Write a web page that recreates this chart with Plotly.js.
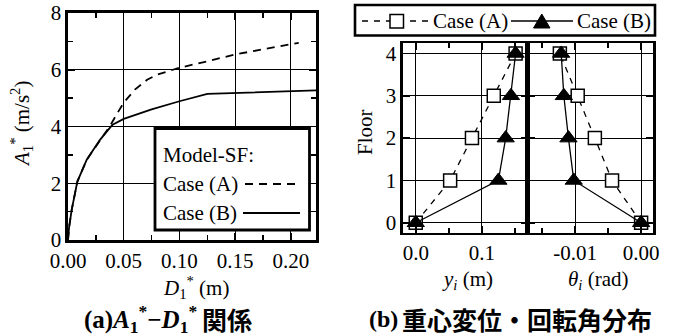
<!DOCTYPE html>
<html>
<head>
<meta charset="utf-8">
<script src="https://cdn.plot.ly/plotly-3.0.1.min.js"></script>
<style>html,body{margin:0;padding:0;background:#fff;}#chart{width:674px;height:336px;}</style>
</head>
<body>
<div id="chart"></div>
<script>
// ---------- data: panel (a) capacity curves ----------
const D1_caseA = [0, 0.001, 0.0033, 0.0084, 0.0168, 0.0287, 0.0377, 0.044, 0.05, 0.06, 0.071, 0.08, 0.09, 0.10, 0.125, 0.15, 0.175, 0.20, 0.207];
const A1_caseA = [0, 0.45, 1.06, 2.06, 2.83, 3.53, 4.02, 4.45, 4.84, 5.30, 5.65, 5.83, 5.96, 6.07, 6.30, 6.54, 6.72, 6.89, 6.95];
const D1_caseB = [0, 0.001, 0.0033, 0.0084, 0.0168, 0.0287, 0.0377, 0.04, 0.05, 0.075, 0.10, 0.125, 0.2225];
const A1_caseB = [0, 0.45, 1.06, 2.06, 2.83, 3.53, 3.96, 4.06, 4.27, 4.60, 4.89, 5.15, 5.27];

// ---------- data: panel (b) distributions ----------
const floors = [0, 1, 2, 3, 4];
const y_caseA = [0.0, 0.052, 0.085, 0.118, 0.151];
const y_caseB = [0.0, 0.125, 0.136, 0.144, 0.151];
const theta_caseA = [0.0, -0.0044, -0.0070, -0.0096, -0.0123];
const theta_caseB = [0.0, -0.0102, -0.0110, -0.0117, -0.0121];

// ---------- tick labels ----------
const ticksA_x = [0, 0.05, 0.10, 0.15, 0.20];
const ticksA_xText = ['0.00', '0.05', '0.10', '0.15', '0.20'];
const ticksA_y = [0, 2, 4, 6, 8];
const ticksY_x = [0, 0.1];
const ticksY_xText = ['0.0', '0.1'];
const ticksT_x = [-0.01, 0];
const ticksT_xText = ['-0.01', '0.00'];
const ticksFloor = [0, 1, 2, 3, 4];

const W = 674, H = 336;
const px = x => x / W;
const py = y => 1 - y / H;
const SERIF = 'Times New Roman';
const CJK = 'Noto Sans CJK JP';
const FS = 21;

const traces = [
  {x: D1_caseA, y: A1_caseA, xaxis: 'x', yaxis: 'y', mode: 'lines', name: 'Case (A)',
   line: {color: '#000', width: 1.8, dash: '8px,6px'}, showlegend: false},
  {x: D1_caseB, y: A1_caseB, xaxis: 'x', yaxis: 'y', mode: 'lines', name: 'Case (B)',
   line: {color: '#000', width: 1.8}, showlegend: false},
  {x: y_caseA, y: floors, xaxis: 'x2', yaxis: 'y2', mode: 'lines+markers', name: 'Case (A)',
   line: {color: '#000', width: 1.3, dash: '6px,6px'},
   marker: {symbol: 'square', size: 13, color: '#fff', line: {color: '#000', width: 1.5}}, showlegend: false},
  {x: y_caseB, y: floors, xaxis: 'x2', yaxis: 'y2', mode: 'lines+markers', name: 'Case (B)',
   line: {color: '#000', width: 1.3},
   marker: {symbol: 'triangle-up', size: 15, color: '#000', line: {color: '#000', width: 1}}, showlegend: false},
  {x: theta_caseA, y: floors, xaxis: 'x3', yaxis: 'y3', mode: 'lines+markers', name: 'Case (A)',
   line: {color: '#000', width: 1.3, dash: '6px,6px'},
   marker: {symbol: 'square', size: 13, color: '#fff', line: {color: '#000', width: 1.5}}, showlegend: false},
  {x: theta_caseB, y: floors, xaxis: 'x3', yaxis: 'y3', mode: 'lines+markers', name: 'Case (B)',
   line: {color: '#000', width: 1.3},
   marker: {symbol: 'triangle-up', size: 15, color: '#000', line: {color: '#000', width: 1}}, showlegend: false}
];

const axBase = {
  showline: true, linecolor: '#000', linewidth: 2.6, mirror: 'allticks',
  ticks: 'inside', ticklen: 7, tickwidth: 1.5, tickcolor: '#000',
  showgrid: true, gridcolor: '#000', gridwidth: 1, zeroline: false,
  tickfont: {family: SERIF, size: FS, color: '#000'}, fixedrange: true
};

const txt = (x, y, text, opts) => Object.assign({xref: 'paper', yref: 'paper', x: px(x), y: py(y), text: text,
  showarrow: false, font: {family: SERIF, size: FS, color: '#000'}, xanchor: 'center', yanchor: 'middle'}, opts || {});

const layout = {
  width: W, height: H, margin: {l: 0, r: 0, t: 0, b: 0},
  paper_bgcolor: '#fff', plot_bgcolor: '#fff', showlegend: false,
  xaxis: Object.assign({}, axBase, {domain: [px(68), px(316)], range: [0, 0.2225], anchor: 'y',
    tickvals: ticksA_x, ticktext: ticksA_xText,
    minor: {tickvals: [0.025, 0.075, 0.125, 0.175], ticks: 'inside', ticklen: 5, tickwidth: 1.5, tickcolor: '#000', showgrid: false}}),
  yaxis: Object.assign({}, axBase, {domain: [py(240), py(13)], range: [0, 8], anchor: 'x',
    tickvals: ticksA_y,
    minor: {dtick: 1, ticks: 'inside', ticklen: 5, tickwidth: 1.5, tickcolor: '#000', showgrid: false}}),
  xaxis2: Object.assign({}, axBase, {domain: [px(403), px(527.5)], range: [-0.0193, 0.169], anchor: 'y2',
    tickvals: ticksY_x, ticktext: ticksY_xText,
    minor: {tickvals: [0.05, 0.15], ticks: 'inside', ticklen: 5, tickwidth: 1.5, tickcolor: '#000', showgrid: false}}),
  yaxis2: Object.assign({}, axBase, {domain: [py(232.5), py(43.3)], range: [-0.23, 4.24], anchor: 'x2',
    tickvals: ticksFloor}),
  xaxis3: Object.assign({}, axBase, {domain: [px(527.5), px(653)], range: [-0.0172, 0.0018], anchor: 'y3',
    tickvals: ticksT_x, ticktext: ticksT_xText,
    minor: {tickvals: [-0.015, -0.005], ticks: 'inside', ticklen: 5, tickwidth: 1.5, tickcolor: '#000', showgrid: false}}),
  yaxis3: Object.assign({}, axBase, {domain: [py(232.5), py(43.3)], range: [-0.23, 4.24], anchor: 'x3',
    tickvals: ticksFloor, showticklabels: false}),
  shapes: [
    // legend (a) box
    {type: 'rect', xref: 'paper', yref: 'paper', x0: px(155), x1: px(309.5), y0: py(230), y1: py(128.5),
     fillcolor: '#fff', line: {color: '#000', width: 2.8}, layer: 'above'},
    {type: 'line', xref: 'paper', yref: 'paper', x0: px(245), x1: px(298.5), y0: py(184), y1: py(184),
     line: {color: '#000', width: 1.8, dash: '8px,6px'}, layer: 'above'},
    {type: 'line', xref: 'paper', yref: 'paper', x0: px(243), x1: px(300), y0: py(213), y1: py(213),
     line: {color: '#000', width: 1.8}, layer: 'above'},
    // legend (b) box
    {type: 'rect', xref: 'paper', yref: 'paper', x0: px(355), x1: px(655), y0: py(35.5), y1: py(5),
     fillcolor: '#fff', line: {color: '#000', width: 2.6}, layer: 'above'},
    {type: 'line', xref: 'paper', yref: 'paper', x0: px(362), x1: px(431), y0: py(21), y1: py(21),
     line: {color: '#000', width: 1.3, dash: '6px,6px'}, layer: 'above'},
    {type: 'rect', xref: 'paper', yref: 'paper', x0: px(390), x1: px(403.5), y0: py(28), y1: py(14.5),
     fillcolor: '#fff', line: {color: '#000', width: 1.5}, layer: 'above'},
    {type: 'line', xref: 'paper', yref: 'paper', x0: px(511), x1: px(573), y0: py(21), y1: py(21),
     line: {color: '#000', width: 1.3}, layer: 'above'},
    {type: 'path', xref: 'paper', yref: 'paper',
     path: 'M ' + px(533.5) + ' ' + py(28) + ' L ' + px(550) + ' ' + py(28) + ' L ' + px(541.8) + ' ' + py(14) + ' Z',
     fillcolor: '#000', line: {color: '#000', width: 1}, layer: 'above'}
  ],
  annotations: [
    // panel (a) axis titles
    txt(196, 287, '<i>D</i><sub>1</sub><sup>*</sup> (m)'),
    txt(21, 124, '<i>A</i><sub>1</sub><sup>*</sup> (m/s<sup>2</sup>)', {textangle: -90}),
    // legend (a) texts
    txt(161, 155, 'Model-SF:', {xanchor: 'left'}),
    txt(161, 184, 'Case (A)', {xanchor: 'left'}),
    txt(161, 213, 'Case (B)', {xanchor: 'left'}),
    // legend (b) texts
    txt(431, 21, 'Case (A)', {xanchor: 'left'}),
    txt(575, 21, 'Case (B)', {xanchor: 'left'}),
    // panel (b) axis titles
    txt(467, 280, '<i>y</i><sub><i>i</i></sub> (m)'),
    txt(598, 280, '<i>θ</i><sub><i>i</i></sub> (rad)'),
    txt(365, 132, 'Floor', {textangle: -90}),
    // captions (Latin part in serif bold, CJK part in gothic bold)
    txt(199, 318.5, '<b>(a)<i>A</i><sub>1</sub><sup>*</sup>−<i>D</i><sub>1</sub><sup>*</sup></b>',
        {xanchor: 'right', font: {family: SERIF, size: 25, color: '#000'}}),
    txt(200, 318.5, '<b>関係</b>', {xanchor: 'left', font: {family: CJK, size: 25, color: '#000'}}),
    txt(400, 318.5, '<b>(b)</b>', {xanchor: 'right', font: {family: SERIF, size: 24, color: '#000'}}),
    txt(400, 318.5, '<b>重心変位・回転角分布</b>', {xanchor: 'left', font: {family: CJK, size: 25, color: '#000'}})
  ]
};

Plotly.newPlot('chart', traces, layout, {displayModeBar: false, staticPlot: true});
</script>
</body>
</html>
